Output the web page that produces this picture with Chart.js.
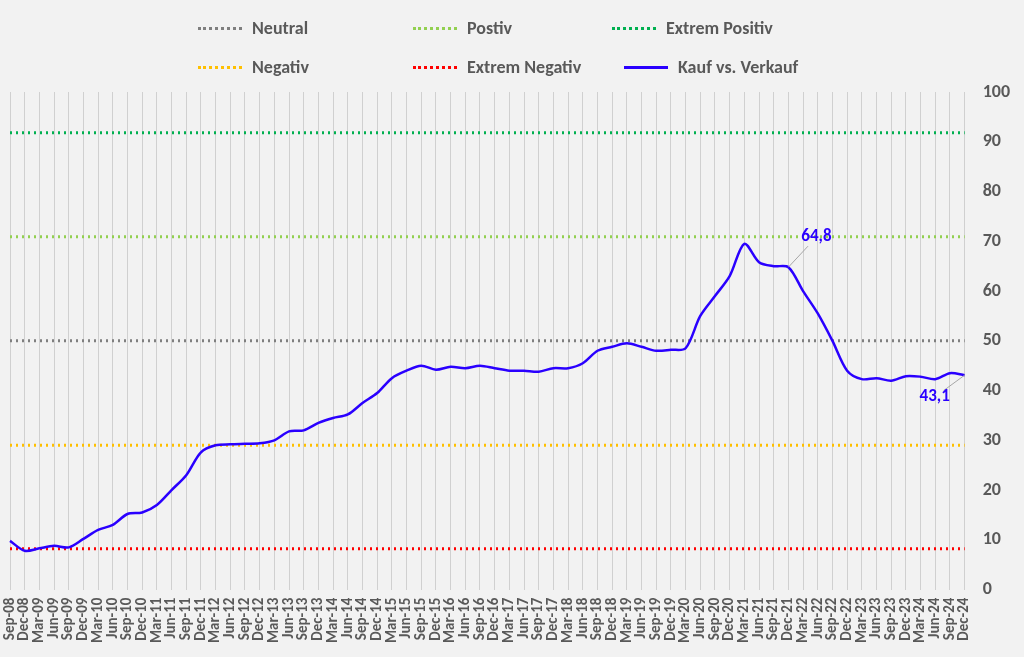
<!DOCTYPE html>
<html lang="de">
<head>
<meta charset="UTF-8" />
<script src="https://cdn.jsdelivr.net/npm/chart.js"></script>
<style>
  body { margin:0; background:#f2f2f2; font-family:Calibri,"Liberation Sans",Carlito,sans-serif; }
  #wrap { position:relative; width:1024px; height:657px; }
  .lg { position:absolute; font-weight:bold; font-size:18px; color:#595959; display:flex; align-items:center; }
  .lg span.l { display:inline-block; width:44px; margin-right:10px; border-top:3px dotted; }
</style>
</head>
<body>
<div id="wrap">
  <canvas id="chart" width="1024" height="657"></canvas>
  <div class="lg" style="left:198px;top:17px"><span class="l" style="border-color:#7f7f7f"></span>Neutral</div>
  <div class="lg" style="left:413px;top:17px"><span class="l" style="border-color:#92d050"></span>Postiv</div>
  <div class="lg" style="left:612px;top:17px"><span class="l" style="border-color:#00b050"></span>Extrem Positiv</div>
  <div class="lg" style="left:198px;top:56px"><span class="l" style="border-color:#ffc000"></span>Negativ</div>
  <div class="lg" style="left:413px;top:56px"><span class="l" style="border-color:#ff0000"></span>Extrem Negativ</div>
  <div class="lg" style="left:624px;top:56px"><span class="l" style="border-top:3px solid #2a00ff"></span>Kauf vs. Verkauf</div>
</div>
<script>
  const labels = [];
  const mon = ["Mar","Jun","Sep","Dec"];
  labels.push("Sep-08", "Dec-08");
  for (let y = 9; y <= 24; y++) mon.forEach(m => labels.push(m + "-" + String(y).padStart(2, "0")));

  const kaufVerkauf = [9.8,7.8,8.3,8.8,8.5,10.2,12,13,15.2,15.5,17,20,23,27.6,29,29.2,29.3,29.4,30,31.8,32,33.5,34.5,35.2,37.5,39.5,42.5,44,45,44.2,44.8,44.5,45,44.5,44,44,43.8,44.5,44.5,45.5,48,48.8,49.5,48.8,48,48.2,48.5,55,59,63,69.5,65.8,65,64.8,60,55.5,50,44,42.3,42.5,42,42.9,42.8,42.3,43.5,43.1];
  const neutral = 50, positiv = 70.9, extremPositiv = 91.8, negativ = 29, extremNegativ = 8.2;
  const callouts = [{ idx: 53, text: "64,8", dx: 28, dy: -30 }, { idx: 65, text: "43,1", dx: -30, dy: 22 }];

  const flat = v => labels.map(() => v);
  const dotted = (v, c) => ({ data: flat(v), borderColor: c, borderWidth: 3, borderDash: [2, 4], pointRadius: 0, fill: false });

  const calloutPlugin = {
    id: "callouts",
    afterDatasetsDraw(chart) {
      const ctx = chart.ctx, xs = chart.scales.x, ys = chart.scales.y;
      ctx.save();
      callouts.forEach(c => {
        const x = xs.getPixelForValue(c.idx), y = ys.getPixelForValue(kaufVerkauf[c.idx]);
        ctx.strokeStyle = "#a6a6a6"; ctx.lineWidth = 1;
        ctx.beginPath(); ctx.moveTo(x, y); ctx.lineTo(x + c.dx * 0.7, y + c.dy * 0.7); ctx.stroke();
        ctx.fillStyle = "#2a00ff"; ctx.font = "bold 17px Calibri, 'Liberation Sans', sans-serif";
        ctx.textAlign = "center"; ctx.textBaseline = "middle";
        ctx.fillText(c.text, x + c.dx, y + c.dy);
      });
      ctx.restore();
    }
  };

  new Chart(document.getElementById("chart"), {
    type: "line",
    data: {
      labels: labels,
      datasets: [
        { data: kaufVerkauf, borderColor: "#2a00ff", borderWidth: 2.5, pointRadius: 0, tension: 0.3, fill: false },
        dotted(neutral, "#7f7f7f"),
        dotted(positiv, "#92d050"),
        dotted(extremPositiv, "#00b050"),
        dotted(negativ, "#ffc000"),
        dotted(extremNegativ, "#ff0000")
      ]
    },
    options: {
      responsive: false,
      animation: false,
      layout: { padding: { top: 92, left: 10, right: 4, bottom: 6 } },
      plugins: { legend: { display: false }, tooltip: { enabled: false } },
      scales: {
        x: {
          offset: false,
          grid: { color: "#d0d0d0", drawTicks: false },
          border: { display: false },
          ticks: { autoSkip: false, maxRotation: 90, minRotation: 90, padding: 8, color: "#595959",
                   font: { size: 15, weight: "bold", family: "Calibri, 'Liberation Sans', sans-serif" } }
        },
        y: {
          position: "right", min: 0, max: 100,
          grid: { display: false },
          border: { display: false },
          ticks: { stepSize: 10, padding: 10, color: "#595959",
                   font: { size: 18, weight: "bold", family: "Calibri, 'Liberation Sans', sans-serif" } }
        }
      }
    },
    plugins: [calloutPlugin]
  });
</script>
</body>
</html>
